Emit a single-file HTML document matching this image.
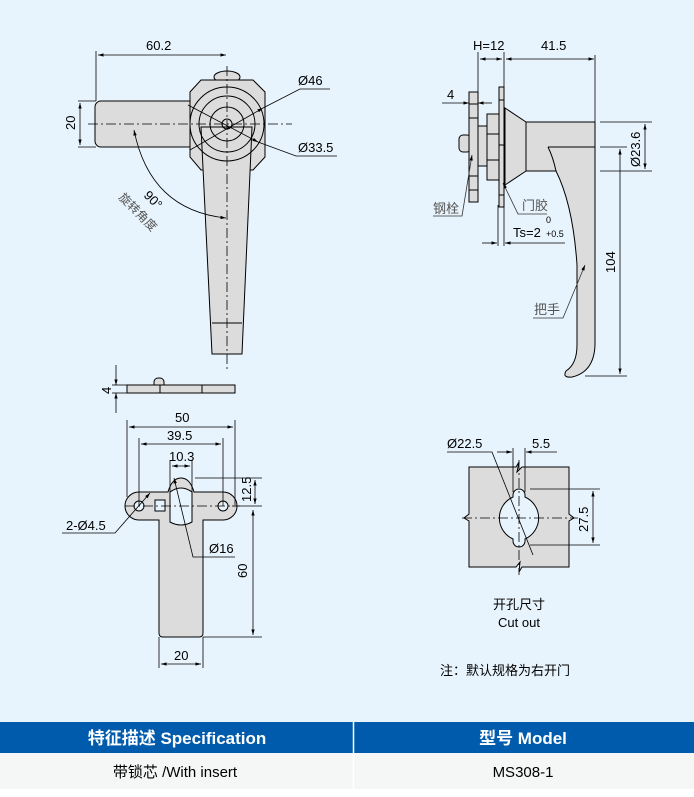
<!DOCTYPE html>
<html><head><meta charset="utf-8"><style>
html,body{margin:0;padding:0;background:#fff}
body{width:694px;height:797px;position:relative;overflow:hidden;font-family:"Liberation Sans","Noto Sans CJK SC",sans-serif}
svg{position:absolute;left:0;top:0}
</style></head><body>
<svg width="694" height="797" viewBox="0 0 694 797" xmlns="http://www.w3.org/2000/svg" font-family="Liberation Sans, Noto Sans CJK SC, sans-serif">
<defs>
<marker id="a" viewBox="0 0 10 10" refX="10" refY="5" markerWidth="7" markerHeight="7" orient="auto-start-reverse"><path d="M0,2L10,5L0,8z" fill="#000"/></marker>
</defs>
<rect x="0" y="0" width="694" height="722" fill="#e8f4fd"/>
<g stroke="#000" stroke-width="1" fill="#dcdcdc">
<rect x="95" y="101" width="100" height="46" rx="6"/>
<ellipse cx="227" cy="77" rx="13" ry="6"/>
<path d="M201,80 L253,80 L265,92 L265,157 L253,170 L201,170 L190,157 L190,92 Z"/>
<path d="M201,127 L252,127 L242,354 L212,354 Z"/>
<circle cx="227" cy="124" r="37" fill="none"/>
<circle cx="227" cy="124" r="28" fill="none"/>
<circle cx="227" cy="124" r="17" fill="none"/>
<circle cx="227" cy="124" r="5" fill="none"/>
<line x1="212" y1="323" x2="242" y2="323"/>
</g>
<g stroke="#000" stroke-width="0.8" fill="none">
<line x1="88" y1="124" x2="292" y2="124" stroke-dasharray="10,3,2,3"/>
<line x1="227" y1="66" x2="227" y2="370" stroke-dasharray="10,3,2,3"/>
<line x1="96" y1="51" x2="96" y2="101"/>
<line x1="98" y1="55" x2="226" y2="55" marker-start="url(#a)" marker-end="url(#a)"/>
<line x1="78" y1="101" x2="96" y2="101"/><line x1="78" y1="147" x2="96" y2="147"/>
<line x1="80" y1="103" x2="80" y2="145" marker-start="url(#a)" marker-end="url(#a)"/>
<path d="M134,130 Q150,210 226,218" marker-start="url(#a)" marker-end="url(#a)"/>
<line x1="190" y1="150" x2="263" y2="108" marker-end="url(#a)"/>
<polyline points="263,108 300,89 330,89"/>
<line x1="188" y1="105" x2="258" y2="142" marker-end="url(#a)"/>
<polyline points="258,142 296,156 337,156"/>
</g>
<g font-size="13" fill="#000">
<text x="146" y="50">60.2</text>
<text x="298" y="85">Ø46</text>
<text x="298" y="152">Ø33.5</text>
<text transform="translate(75,130) rotate(-90)">20</text>
<text transform="translate(143,196) rotate(45)">90°</text>
<text transform="translate(118,198) rotate(45)" font-size="12" fill="#555">旋转角度</text>
</g>

<g stroke="#000" stroke-width="1" fill="#dcdcdc">
<rect x="459" y="135" width="12" height="17" rx="4"/>
<rect x="469" y="92" width="9" height="110"/>
<rect x="478" y="126" width="9" height="40"/>
<rect x="487" y="114" width="12" height="66"/>
<rect x="499" y="87" width="5" height="120"/>
<path d="M505,108 L526,122 L526,171 L505,185 Z"/>
<path d="M526,122 L595,122 L595,345 Q594,372 572,377 Q562,378 566,371 Q577,364 577,345 L577,265 Q573,205 556,171 L526,171 Z"/>
<path d="M548,147 Q553,157 556,171" fill="none"/>
<line x1="548" y1="147" x2="595" y2="147"/>
<line x1="469" y1="104" x2="478" y2="104"/><line x1="469" y1="118" x2="478" y2="118"/><line x1="469" y1="176" x2="478" y2="176"/><line x1="469" y1="190" x2="478" y2="190"/>
<line x1="487" y1="134" x2="499" y2="134"/><line x1="487" y1="160" x2="499" y2="160"/>
<line x1="499" y1="100" x2="504" y2="100"/><line x1="499" y1="145" x2="504" y2="145"/><line x1="499" y1="195" x2="504" y2="195"/>
</g>
<g stroke="#000" stroke-width="0.8" fill="none">
<line x1="478" y1="52" x2="478" y2="92"/><line x1="504" y1="52" x2="504" y2="87"/><line x1="595" y1="55" x2="595" y2="122"/>
<line x1="480" y1="59" x2="502" y2="59" marker-start="url(#a)" marker-end="url(#a)"/>
<line x1="506" y1="59" x2="594" y2="59" marker-start="url(#a)" marker-end="url(#a)"/>
<line x1="442" y1="103" x2="469" y2="103" marker-end="url(#a)"/><line x1="492" y1="103" x2="478" y2="103" marker-end="url(#a)"/>
<line x1="600" y1="122" x2="652" y2="122"/><line x1="600" y1="171" x2="652" y2="171"/>
<line x1="645" y1="124" x2="645" y2="169" marker-start="url(#a)" marker-end="url(#a)"/>
<line x1="600" y1="147" x2="627" y2="147"/><line x1="585" y1="376" x2="627" y2="376"/>
<line x1="620" y1="149" x2="620" y2="374" marker-start="url(#a)" marker-end="url(#a)"/>
<line x1="498" y1="205" x2="498" y2="246"/><line x1="504" y1="205" x2="504" y2="246"/>
<line x1="482" y1="243" x2="497" y2="243" marker-end="url(#a)"/><line x1="565" y1="243" x2="505" y2="243" marker-end="url(#a)"/>
<polyline points="433,216 462,216 472,155" stroke="#333" marker-end="url(#a)"/>
<polyline points="547,214 518,214 503,183" stroke="#333" marker-end="url(#a)"/>
<polyline points="533,318 563,318 585,265" stroke="#333" marker-end="url(#a)"/>
</g>
<g font-size="13" fill="#000">
<text x="473" y="50">H=12</text>
<text x="541" y="50">41.5</text>
<text x="447" y="99">4</text>
<text x="513" y="237">Ts=2</text>
<text x="546" y="223" font-size="9">0</text>
<text x="546" y="237" font-size="9">+0.5</text>
<text x="433" y="213" fill="#555">钢栓</text>
<text x="522" y="210" fill="#555">门胶</text>
<text x="534" y="314" fill="#555">把手</text>
<text transform="translate(640,167) rotate(-90)">Ø23.6</text>
<text transform="translate(615,273) rotate(-90)">104</text>
</g>

<g stroke="#000" stroke-width="1" fill="#dcdcdc">
<rect x="154" y="378" width="10" height="10" rx="4"/>
<rect x="127" y="385" width="108" height="8"/>
<line x1="160" y1="385" x2="160" y2="393"/><line x1="202" y1="385" x2="202" y2="393"/>
<path d="M139,492 L168,492 Q172,478 181,478 Q190,478 194,492 L223,492 A14,14 0 0 1 223,520 L203,520 L203,633 Q203,637 199,637 L163,637 Q159,637 159,633 L159,520 L139,520 A14,14 0 0 1 139,492 Z"/>
<circle cx="139" cy="506" r="5" fill="#e8f4fd"/><circle cx="223" cy="506" r="5" fill="#e8f4fd"/>
<rect x="155" y="500" width="10" height="11" fill="#e8f4fd"/>
<path d="M170,492 Q181,484 192,492 L192,522 Q181,528 170,522 Z" fill="#e8f4fd"/>
</g>
<g stroke="#000" stroke-width="0.8" fill="none">
<line x1="125" y1="506" x2="240" y2="506" stroke-dasharray="10,3,2,3"/>
<line x1="112" y1="385" x2="127" y2="385"/><line x1="112" y1="393" x2="127" y2="393"/>
<line x1="116" y1="365" x2="116" y2="385" marker-end="url(#a)"/><line x1="116" y1="413" x2="116" y2="393" marker-end="url(#a)"/>
<line x1="127" y1="420" x2="127" y2="497"/><line x1="235" y1="420" x2="235" y2="505"/>
<line x1="129" y1="427" x2="233" y2="427" marker-start="url(#a)" marker-end="url(#a)"/>
<line x1="139" y1="438" x2="139" y2="506"/><line x1="223" y1="438" x2="223" y2="506"/>
<line x1="141" y1="444" x2="221" y2="444" marker-start="url(#a)" marker-end="url(#a)"/>
<line x1="170" y1="460" x2="170" y2="492"/><line x1="192" y1="460" x2="192" y2="492"/>
<line x1="172" y1="466" x2="190" y2="466" marker-start="url(#a)" marker-end="url(#a)"/>
<line x1="195" y1="478" x2="262" y2="478"/><line x1="232" y1="506" x2="262" y2="506"/>
<line x1="255" y1="480" x2="255" y2="504" marker-start="url(#a)" marker-end="url(#a)"/>
<line x1="203" y1="637" x2="262" y2="637"/>
<line x1="253" y1="510" x2="253" y2="635" marker-start="url(#a)" marker-end="url(#a)"/>
<line x1="159" y1="637" x2="159" y2="668"/><line x1="203" y1="637" x2="203" y2="668"/>
<line x1="161" y1="664" x2="201" y2="664" marker-start="url(#a)" marker-end="url(#a)"/>
<polyline points="62,533 115,533 150,493" marker-end="url(#a)"/>
<polyline points="235,557 193,557 174,478" marker-end="url(#a)"/>
</g>
<g font-size="13" fill="#000">
<text transform="translate(111,394) rotate(-90)">4</text>
<text x="175" y="422">50</text>
<text x="167" y="440">39.5</text>
<text x="169" y="461">10.3</text>
<text transform="translate(251,502) rotate(-90)">12.5</text>
<text transform="translate(247,578) rotate(-90)">60</text>
<text x="174" y="660">20</text>
<text x="66" y="530">2-Ø4.5</text>
<text x="209" y="553">Ø16</text>
</g>

<g stroke="#000" stroke-width="1" fill="#dcdcdc">
<path d="M469,467 L516,467 L519,462 L517,472 L522,467 L569,467 L569,514 L574,518 L569,521 L569,567 L522,567 L519,572 L520,562 L516,567 L469,567 L469,521 L464,518 L469,514 Z"/>
<path d="M513,495 A6,6 0 0 1 525,495 L525,497 A23,23 0 0 1 525,539 L525,541 A6,6 0 0 1 513,541 L513,539 A23,23 0 0 1 513,497 Z" fill="#e8f4fd"/>
</g>
<g stroke="#000" stroke-width="0.8" fill="none">
<line x1="462" y1="518" x2="578" y2="518" stroke-dasharray="10,3,2,3"/>
<line x1="519" y1="460" x2="519" y2="575" stroke-dasharray="10,3,2,3"/>
<line x1="513" y1="448" x2="513" y2="492"/><line x1="525" y1="448" x2="525" y2="492"/>
<line x1="497" y1="452" x2="512" y2="452" marker-end="url(#a)"/><line x1="557" y1="452" x2="526" y2="452" marker-end="url(#a)"/>
<line x1="530" y1="489" x2="600" y2="489"/><line x1="530" y1="545" x2="600" y2="545"/>
<line x1="593" y1="491" x2="593" y2="543" marker-start="url(#a)" marker-end="url(#a)"/>
<polyline points="447,452 492,452 533,555"/>
</g>
<g font-size="13" fill="#000">
<text x="447" y="448">Ø22.5</text>
<text x="532" y="448">5.5</text>
<text transform="translate(588,532) rotate(-90)">27.5</text>
<text x="519" y="609" text-anchor="middle" font-size="13">开孔尺寸</text>
<text x="519" y="627" text-anchor="middle" font-size="13">Cut out</text>
<text x="440" y="675" font-size="13">注：默认规格为右开门</text>
</g>

<rect x="0" y="722" width="694" height="31" fill="#005bac"/>
<rect x="0" y="753" width="694" height="36" fill="#f5f7f7"/>
<line x1="353.5" y1="722" x2="353.5" y2="789" stroke="#fff" stroke-width="1.5"/>
<g font-size="17" fill="#fff" text-anchor="middle" font-weight="600">
<text x="177" y="744">特征描述 Specification</text>
<text x="523" y="744">型号 Model</text>
</g>
<g font-size="15" fill="#000" text-anchor="middle">
<text x="175" y="777">带锁芯 /With insert</text>
<text x="523" y="777">MS308-1</text>
</g>
</svg>
</body></html>
